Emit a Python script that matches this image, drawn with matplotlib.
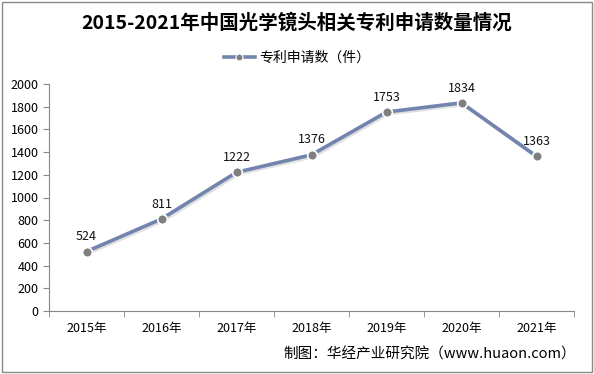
import matplotlib.pyplot as plt
import matplotlib.patheffects as pe
from matplotlib.patches import Rectangle

plt.rcParams['font.family'] = ['Noto Sans CJK SC', 'DejaVu Sans']

years = ['2015年', '2016年', '2017年', '2018年', '2019年', '2020年', '2021年']
patents = [524, 811, 1222, 1376, 1753, 1834, 1363]
y_ticks = list(range(0, 2001, 200))

fig = plt.figure(figsize=(5.94, 3.74), dpi=100)
ax = fig.add_axes([49 / 594, 63 / 374, 525 / 594, 227 / 374])

x = list(range(len(years)))
shadow = [pe.SimpleLineShadow(offset=(1.2, -1.2), shadow_color='#999999', alpha=0.3),
          pe.Normal()]
ax.plot(x, patents, color='#7284AD', lw=2.6, path_effects=shadow, zorder=3)
ax.plot(x, patents, color='#7284AD', lw=2.6, marker='o', ms=7,
        mfc='#7F7F7F', mec='white', mew=1.2, ls='none', zorder=4)
ax.plot([], [], color='#7284AD', lw=2.6, marker='o', ms=5,
        mfc='#7F7F7F', mec='white', mew=0.8, label='专利申请数（件）')

for xi, v in zip(x, patents):
    ax.annotate(str(v), (xi, v), xytext=(0, 6), textcoords='offset points',
                ha='center', va='bottom', fontsize=9, color='#111111')

ax.set_xlim(-0.5, len(years) - 0.5)
ax.set_ylim(0, 2000)
ax.set_yticks(y_ticks)
ax.set_xticks(x)
ax.set_xticklabels(years)
ax.set_xticks([i - 0.5 for i in range(len(years) + 1)], minor=True)
ax.tick_params(axis='x', which='major', length=0, pad=8, labelsize=9)
ax.tick_params(axis='x', which='minor', length=4, color='#888888')
ax.tick_params(axis='y', length=4, color='#888888', labelsize=9)
for s in ['top', 'right']:
    ax.spines[s].set_visible(False)
for s in ['left', 'bottom']:
    ax.spines[s].set_color('#888888')

fig.text(0.5, 0.94, '2015-2021年中国光学镜头相关专利申请数量情况',
         ha='center', va='center', fontsize=14, fontweight='bold')
fig.legend(loc='center', bbox_to_anchor=(0.5, 0.845), frameon=False,
           fontsize=10, handlelength=2.2, handletextpad=0.3)

fig.text(0.97, 0.053, '制图：华经产业研究院（www.huaon.com）',
         ha='right', va='center', fontsize=10.5)

fig.patches.append(Rectangle((0.004, 0.006), 0.992, 0.988,
                             transform=fig.transFigure, fill=False,
                             edgecolor='#888888', lw=1))

fig.savefig('out.png', dpi=100)
